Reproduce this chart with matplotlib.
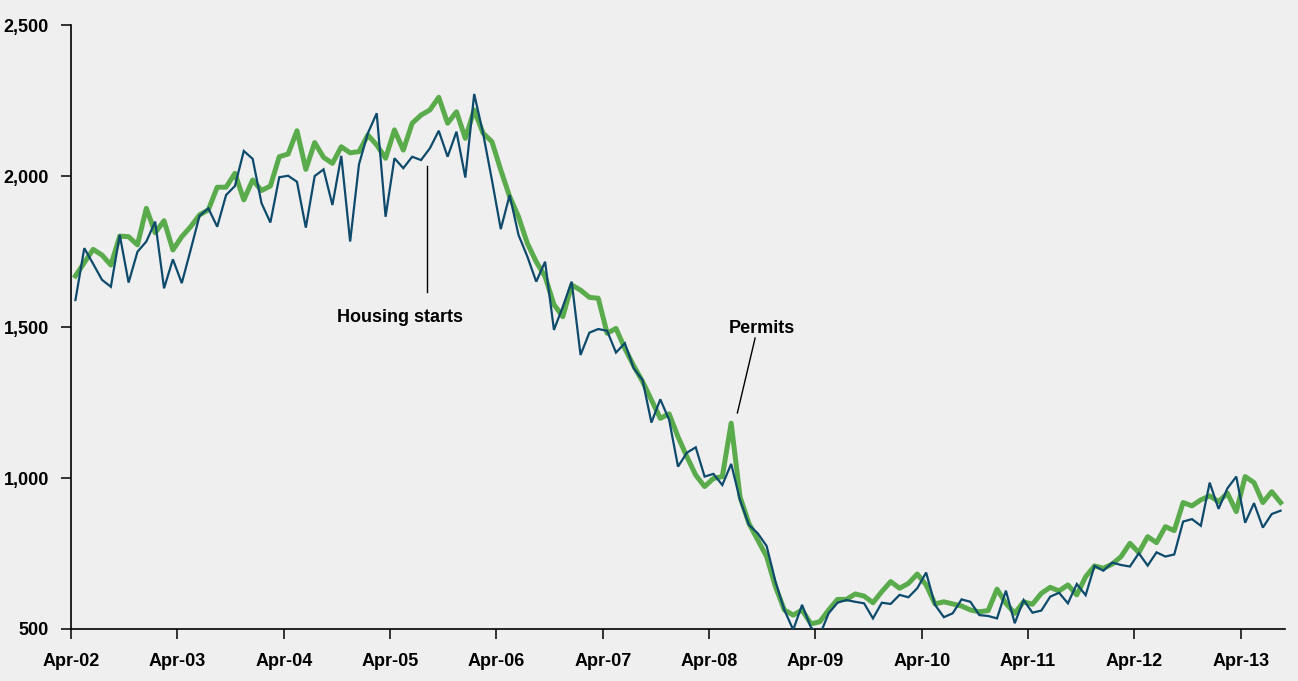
import numpy as np
import pandas as pd
import matplotlib
matplotlib.use("Agg")
import matplotlib.pyplot as plt
from matplotlib.ticker import FuncFormatter

plt.rcParams['font.family'] = ['Liberation Sans', 'DejaVu Sans']

# monthly, Apr-2002 .. Aug-2013, thousands (SAAR)
months = pd.date_range("2002-04-01", periods=137, freq="MS")

starts = [
    1590, 1762, 1710, 1657, 1634, 1806, 1648, 1750, 1784, 1850, 1629, 1725,
    1646, 1756, 1869, 1894, 1833, 1938, 1968, 2084, 2058, 1911, 1847, 1997,
    2002, 1982, 1830, 2001, 2023, 1905, 2068, 1784, 2040, 2143, 2209, 1866,
    2060, 2027, 2065, 2054, 2093, 2151, 2065, 2148, 1996, 2273, 2143, 1988,
    1825, 1938, 1806, 1734, 1651, 1717, 1491, 1568, 1651, 1408, 1482, 1494,
    1488, 1416, 1447, 1364, 1325, 1184, 1261, 1193, 1038, 1084, 1102, 1005,
    1014, 977, 1047, 927, 845, 817, 775, 657, 563, 497, 580, 505,
    480, 552, 587, 596, 590, 585, 535, 587, 583, 613, 605, 635,
    687, 580, 539, 552, 598, 590, 546, 543, 535, 627, 519, 596,
    554, 561, 607, 620, 585, 649, 612, 709, 693, 720, 712, 707,
    751, 710, 754, 740, 747, 856, 864, 842, 985, 898, 966, 1005,
    852, 917, 836, 881, 892,
]

permits = [
    1670, 1714, 1758, 1739, 1706, 1802, 1800, 1773, 1894, 1813, 1853, 1756,
    1800, 1833, 1872, 1889, 1964, 1964, 2010, 1922, 1988, 1953, 1968, 2065,
    2074, 2151, 2023, 2112, 2063, 2043, 2098, 2078, 2082, 2137, 2104, 2060,
    2154, 2087, 2176, 2203, 2220, 2262, 2176, 2214, 2126, 2220, 2143, 2115,
    2021, 1933, 1866, 1778, 1717, 1668, 1575, 1535, 1640, 1623, 1599, 1596,
    1480, 1496, 1430, 1372, 1320, 1259, 1198, 1213, 1137, 1071, 1010, 972,
    999, 1005, 1182, 938, 850, 795, 740, 640, 563, 546, 563, 517,
    524, 563, 598, 598, 616, 609, 587, 624, 657, 635, 651, 682,
    646, 583, 590, 583, 576, 563, 557, 561, 632, 585, 552, 590,
    582, 618, 638, 626, 646, 613, 673, 709, 701, 715, 740, 784,
    753, 806, 786, 839, 826, 919, 908, 928, 941, 922, 950, 889,
    1005, 985, 919, 955, 919,
]

bg = "#efefef"
fig = plt.figure(figsize=(12.98, 6.81), dpi=100, facecolor=bg)
ax = fig.add_axes([0.0547, 0.0764, 0.9353, 0.8862], facecolor=bg)

x = np.arange(len(months)) + 0.5
ax.plot(x, permits, color="#5aab4b", lw=3.6, solid_joinstyle="round", zorder=2)
ax.plot(x, starts, color="#0d4a6c", lw=1.6, solid_joinstyle="miter", zorder=3)

ax.set_xlim(0, len(months))
ax.set_ylim(500, 2500)

tick_idx = [i for i, m in enumerate(months) if m.month == 4]
ax.set_xticks(tick_idx)
ax.set_xticklabels([months[i].strftime("%b-%y") for i in tick_idx])
ax.set_yticks([500, 1000, 1500, 2000, 2500])
ax.yaxis.set_major_formatter(FuncFormatter(lambda v, p: f"{int(v):,}"))

for s in ["top", "right"]:
    ax.spines[s].set_visible(False)
for s in ["left", "bottom"]:
    ax.spines[s].set_color("black")
    ax.spines[s].set_linewidth(1.2)

ax.tick_params(axis="y", direction="out", length=7, width=1.1, pad=9,
               labelsize=13)
ax.tick_params(axis="x", direction="out", length=7, width=1.1, pad=10,
               labelsize=13)
for lab in ax.get_xticklabels() + ax.get_yticklabels():
    lab.set_fontweight("bold")

# annotations
ax.plot([40.2, 40.2], [2034, 1617], color="black", lw=1, zorder=4)
ax.text(37.1, 1531, "Housing starts", ha="center", va="center",
        fontsize=13, fontweight="bold")
ax.plot([75.2, 77.2], [1216, 1464], color="black", lw=1, zorder=4)
ax.text(78.0, 1497, "Permits", ha="center", va="center",
        fontsize=13, fontweight="bold")

fig.savefig("out.png", dpi=100, facecolor=bg)
